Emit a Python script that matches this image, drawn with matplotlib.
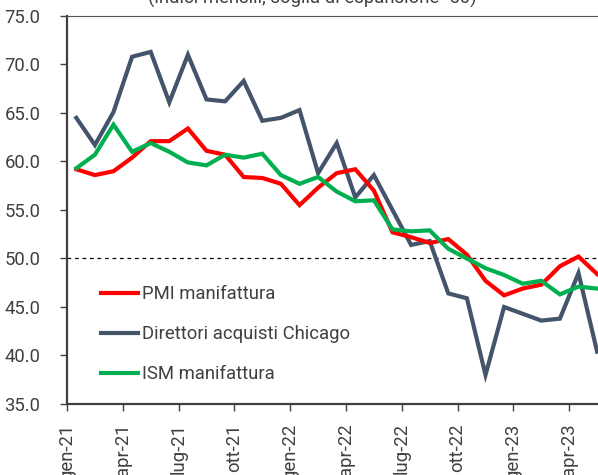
import matplotlib
matplotlib.use("Agg")
import matplotlib.pyplot as plt
import numpy as np

# ---- data (Jan 2021 - May 2023, monthly) ----
months = ["gen-21", "feb-21", "mar-21", "apr-21", "mag-21", "giu-21", "lug-21", "ago-21", "set-21",
          "ott-21", "nov-21", "dic-21", "gen-22", "feb-22", "mar-22", "apr-22", "mag-22", "giu-22",
          "lug-22", "ago-22", "set-22", "ott-22", "nov-22", "dic-22", "gen-23", "feb-23", "mar-23",
          "apr-23", "mag-23"]
pmi = [59.2, 58.6, 59.0, 60.4, 62.1, 62.1, 63.4, 61.1, 60.7, 58.4, 58.3, 57.7, 55.5, 57.3, 58.8,
       59.2, 57.0, 52.7, 52.2, 51.6, 52.0, 50.4, 47.7, 46.2, 46.9, 47.3, 49.2, 50.2, 48.4]
chicago = [64.5, 61.7, 65.1, 70.8, 71.3, 66.1, 71.0, 66.4, 66.2, 68.3, 64.2, 64.5, 65.3, 58.8, 61.9,
           56.3, 58.6, 55.0, 51.4, 51.8, 46.4, 45.9, 38.0, 45.0, 44.3, 43.6, 43.8, 48.5, 40.4]
ism = [59.3, 60.7, 63.8, 61.0, 61.9, 61.0, 59.9, 59.6, 60.7, 60.4, 60.8, 58.6, 57.7, 58.4, 56.9,
       55.9, 56.0, 53.0, 52.8, 52.9, 51.0, 50.0, 49.0, 48.3, 47.4, 47.7, 46.3, 47.1, 46.9]
series_names = ["PMI manifattura", "Direttori acquisti Chicago", "ISM manifattura"]
tick_idx = [0, 3, 6, 9, 12, 15, 18, 21, 24, 27]
threshold = 50.0
title = "(indici mensili, soglia di espansione=50)"

W, H = 598, 475
plt.rcParams['font.family'] = ['Roboto', 'DejaVu Sans']
txt = '#404040'
fs = 13.3

fig = plt.figure(figsize=(W / 100, H / 100), dpi=100)
ax = fig.add_axes([67 / W, 1 - 404 / H, 1 - 67 / W, (404 - 16) / H])

x = np.arange(len(months)) + 0.5
ax.plot(x, pmi, color='#FF0000', lw=3, label=series_names[0], solid_joinstyle='miter', zorder=3)
ax.plot(x, chicago, color='#44546A', lw=3, label=series_names[1], solid_joinstyle='miter', zorder=2)
ax.plot(x, ism, color='#00B050', lw=3, label=series_names[2], solid_joinstyle='miter', zorder=4)
ax.axhline(threshold, color='black', lw=0.9, ls=(0, (3, 3)), zorder=1)

ax.set_xlim(0, (W - 67) / 18.6)
ax.set_ylim(35, 75)
ax.set_yticks(np.arange(35, 76, 5))
ax.set_yticklabels([f"{v:.1f}" for v in np.arange(35, 76, 5)])
ax.set_xticks(tick_idx)
ax.set_xticklabels([months[i] for i in tick_idx], rotation=90, va='top', ha='center')

ax.tick_params(axis='both', colors='#404040', labelcolor=txt, labelsize=fs, length=5, width=1)
ax.tick_params(axis='y', pad=14)
ax.tick_params(axis='x', pad=9)
ax.spines['right'].set_visible(False)
ax.spines['top'].set_color('#555555')
ax.spines['top'].set_linewidth(0.8)
ax.spines['left'].set_color('#404040')
ax.spines['left'].set_linewidth(1.6)
ax.spines['bottom'].set_color('#404040')
ax.spines['bottom'].set_linewidth(1.6)

leg = ax.legend(loc='upper left', bbox_to_anchor=(101 / W, 1 - 285 / H), bbox_transform=fig.transFigure,
                frameon=False, fontsize=fs, handlelength=2.0, handletextpad=0.2,
                labelspacing=1.2, borderpad=0, borderaxespad=0)
for t in leg.get_texts():
    t.set_color(txt)

fig.text(312 / W, 1 - 4 / H, title, ha='center', va='baseline', fontsize=fs, color=txt)

fig.savefig("out.png", dpi=100)
